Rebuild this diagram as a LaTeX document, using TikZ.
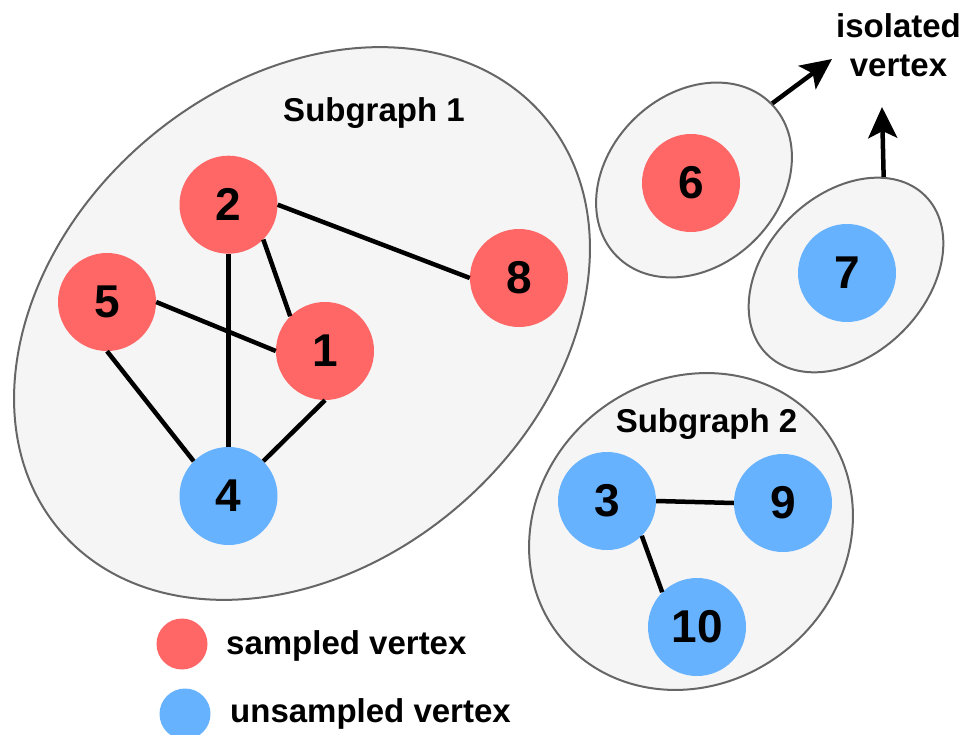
\documentclass[tikz,border=0pt]{standalone}
\usepackage{fontspec}
\setmainfont{Liberation Sans}
\usetikzlibrary{shapes.geometric,arrows.meta}
\definecolor{sampledc}{HTML}{FF6666}
\definecolor{unsampledc}{HTML}{66B2FF}
\definecolor{groupfill}{HTML}{F5F5F5}
\definecolor{groupline}{HTML}{666666}

\begin{document}
\begin{tikzpicture}[x=1pt,y=-1pt,
  vtx/.style={circle, minimum size=98pt, inner sep=0pt,
    font=\fontsize{46}{46}\selectfont\bfseries},
  sampledv/.style={vtx, fill=sampledc},
  unsampledv/.style={vtx, fill=unsampledc},
  legdot/.style={circle, minimum size=51pt, inner sep=0pt},
  group/.style={ellipse, draw=groupline, line width=2pt, fill=groupfill, inner sep=0pt},
  edge/.style={line width=4.5pt},
  arr/.style={line width=4.5pt, -{Stealth[length=31pt,width=29pt,inset=7pt]}},
  lbl/.style={font=\fontsize{33}{39}\selectfont\bfseries, inner sep=0pt}
]
\useasboundingbox (0,0) rectangle (966,735);

% subgraph regions
\node[group, minimum width=637pt, minimum height=481pt, rotate=40.7] (sg1) at (302,323.5) {};
\node[group, minimum width=217pt, minimum height=171pt, rotate=44.4] (sg6) at (694,180) {};
\node[group, minimum width=224pt, minimum height=160pt, rotate=45] (sg7) at (846,275) {};
\node[group, minimum width=336pt, minimum height=304pt, rotate=38.7] (sg2) at (691,531.5) {};

% region titles
\node[lbl, anchor=base] (t1) at (374,122) {Subgraph 1};
\node[lbl, anchor=base] (t2) at (706.5,432) {Subgraph 2};
\node[lbl, align=center] (iso) at (898.5,45.5) {isolated\\vertex};

% vertices
\node[sampledv] (v2) at (228.5,204.7) {2};
\node[sampledv] (v5) at (107,302) {5};
\node[sampledv] (v1) at (325,351) {1};
\node[sampledv] (v8) at (519,278) {8};
\node[unsampledv] (v4) at (228.5,496) {4};
\node[sampledv] (v6) at (691,183) {6};
\node[unsampledv] (v7) at (847,273) {7};
\node[unsampledv] (v3) at (607,501) {3};
\node[unsampledv] (v9) at (783,503) {9};
\node[unsampledv] (v10) at (697,627) {10};

% edges
\draw[edge] (v2.east) -- (v8.west);
\draw[edge] (v2.south east) -- (v1.north west);
\draw[edge] (v2.south) -- (v4.north);
\draw[edge] (v5.east) -- (v1.west);
\draw[edge] (v5.south) -- (v4.north west);
\draw[edge] (v1.south) -- (v4.north east);
\draw[edge] (v3.east) -- (v9.west);
\draw[edge] (v3.south east) -- (v10.north west);

% isolated-vertex pointers
\coordinate (iso6) at (832,59);
\coordinate (iso7) at (882,107);
\draw[arr] (sg6.east) -- (iso6);
\draw[arr] (sg7.24.4) -- (iso7);

% legend
\node[legdot, fill=sampledc] (lg1) at (182,644) {};
\node[legdot, fill=unsampledc] (lg2) at (185,714) {};
\node[lbl, anchor=base west] (lt1) at (226,654) {sampled vertex};
\node[lbl, anchor=base west] (lt2) at (230,722) {unsampled vertex};
\end{tikzpicture}
\end{document}
